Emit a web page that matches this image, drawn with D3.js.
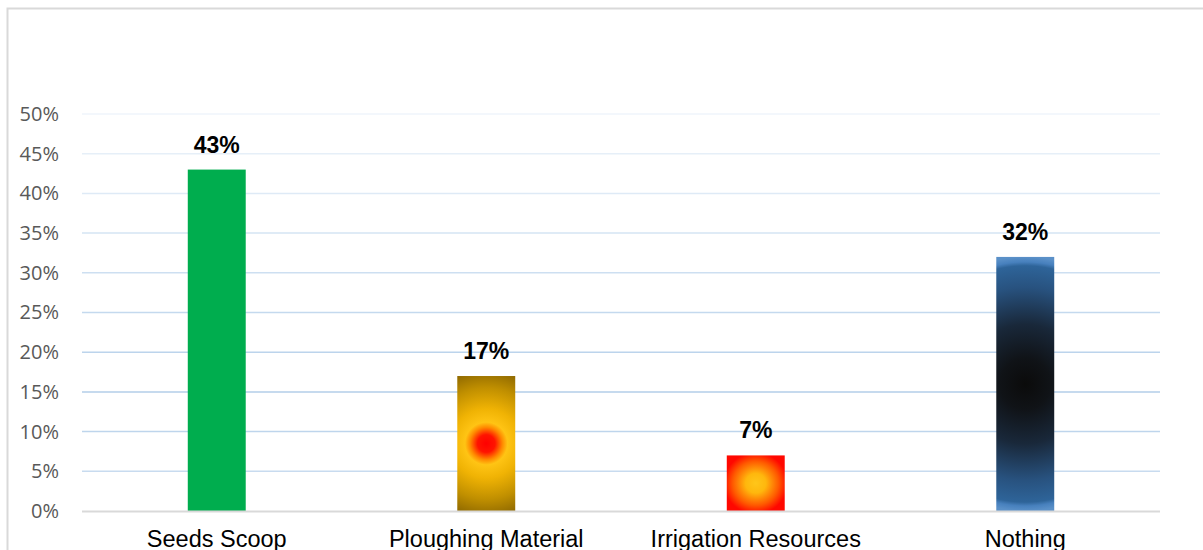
<!DOCTYPE html>
<html>
<head>
<meta charset="utf-8">
<script src="https://cdn.jsdelivr.net/npm/d3@7"></script>
<style>
  html, body { margin: 0; padding: 0; background: #ffffff; }
  svg { display: block; }
</style>
</head>
<body>
<svg id="chart" width="1203" height="550"></svg>
<script>
// Share of respondents by type of support received
const categories = ["Seeds Scoop", "Ploughing Material", "Irrigation Resources", "Nothing"];
const shares = [0.43, 0.17, 0.07, 0.32];
const valueLabels = ["43%", "17%", "7%", "32%"];
const tickValues = [0, 0.05, 0.10, 0.15, 0.20, 0.25, 0.30, 0.35, 0.40, 0.45, 0.50];
const tickLabels = ["0%", "5%", "10%", "15%", "20%", "25%", "30%", "35%", "40%", "45%", "50%"];

const svg = d3.select("#chart");
const W = 1203, H = 550;
const plot = { left: 82, right: 1160, top: 114, bottom: 511 };

// outer chart frame (runs off the right and bottom edges)
svg.append("rect")
  .attr("x", 7.5).attr("y", 8.5)
  .attr("width", W + 20).attr("height", H + 20)
  .attr("fill", "none").attr("stroke", "#d9d9d9").attr("stroke-width", 2);

const x = d3.scaleBand()
  .domain(categories)
  .range([plot.left, plot.right])
  .paddingInner(0.785)
  .paddingOuter(0.3925);

const y = d3.scaleLinear().domain([0, 0.5]).range([plot.bottom, plot.top]);

// gridlines: pale blue, fading toward the top
const gridColor = d3.scaleLinear()
  .domain([0.05, 0.15, 0.5])
  .range(["#c8dbef", "#b3cee9", "#eff5fb"]);

svg.append("g")
  .selectAll("line")
  .data(tickValues.filter(v => v > 0))
  .join("line")
  .attr("x1", plot.left).attr("x2", plot.right)
  .attr("y1", d => y(d)).attr("y2", d => y(d))
  .attr("stroke", d => gridColor(d))
  .attr("stroke-width", 1.5);

// y axis tick labels
const yAxis = d3.axisLeft(y)
  .tickValues(tickValues)
  .tickFormat((d, i) => tickLabels[i])
  .tickSize(0)
  .tickPadding(0);

const yg = svg.append("g")
  .attr("transform", `translate(59,0)`)
  .call(yAxis);
yg.select(".domain").remove();
yg.selectAll("text")
  .attr("fill", "#595959")
  .style("font-family", "'Open Sans', sans-serif")
  .style("font-size", "20px");

const bars = categories.map((c, i) => ({ c, v: shares[i], label: valueLabels[i] }));
const cxOf = d => x(d.c) + x.bandwidth() / 2;
const cyOf = d => (y(d.v) + y(0)) / 2;
const halfH = d => (y(0) - y(d.v)) / 2;

// gradient fills, centred on each bar
const defs = svg.append("defs");

// ploughing: red core, yellow body, darkening gold edges
const pb = bars[1];
const gGold = defs.append("radialGradient").attr("id", "fillGold")
  .attr("gradientUnits", "userSpaceOnUse")
  .attr("cx", cxOf(pb)).attr("cy", cyOf(pb))
  .attr("r", Math.hypot(x.bandwidth() / 2, halfH(pb)));
[[0, "#ff0000"], [0.12, "#ff1400"], [0.22, "#ff8a00"], [0.29, "#ffc414"],
 [0.47, "#f0b304"], [0.76, "#c08f00"], [1, "#8f6900"]]
  .forEach(([o, c]) => gGold.append("stop").attr("offset", o).attr("stop-color", c));

// irrigation: yellow centre, red edges
const gFire = defs.append("radialGradient").attr("id", "fillFire")
  .attr("cx", 0.5).attr("cy", 0.5).attr("r", 0.55);
[[0, "#ffc61a"], [0.32, "#ffb70d"], [0.72, "#ff5a00"], [1, "#ff0800"]]
  .forEach(([o, c]) => gFire.append("stop").attr("offset", o).attr("stop-color", c));

// nothing: black core, steel blue body, lighter rim at top and bottom
const nb = bars[3];
const gNight = defs.append("radialGradient").attr("id", "fillNight")
  .attr("gradientUnits", "userSpaceOnUse")
  .attr("cx", cxOf(nb)).attr("cy", cyOf(nb))
  .attr("r", halfH(nb) * 1.0);
[[0, "#0b0b0b"], [0.2, "#101317"], [0.47, "#19283a"], [0.76, "#28527f"],
 [0.93, "#2e6499"], [0.96, "#4780bd"], [1, "#5a90c8"]]
  .forEach(([o, c]) => gNight.append("stop").attr("offset", o).attr("stop-color", c));

const fills = ["#00ad4e", "url(#fillGold)", "url(#fillFire)", "url(#fillNight)"];

svg.append("g")
  .selectAll("rect")
  .data(bars)
  .join("rect")
  .attr("x", d => x(d.c))
  .attr("y", d => y(d.v))
  .attr("width", x.bandwidth())
  .attr("height", d => y(0) - y(d.v))
  .attr("fill", (d, i) => fills[i]);

// baseline
svg.append("line")
  .attr("x1", plot.left).attr("x2", plot.right)
  .attr("y1", y(0) + 0.5).attr("y2", y(0) + 0.5)
  .attr("stroke", "#d9d9d9").attr("stroke-width", 2);

// value labels
svg.append("g")
  .selectAll("text")
  .data(bars)
  .join("text")
  .attr("x", d => cxOf(d))
  .attr("y", d => y(d.v) - 17)
  .attr("text-anchor", "middle")
  .attr("fill", "#000000")
  .style("font-family", "'Liberation Sans', Arial, sans-serif")
  .style("font-weight", "bold")
  .style("font-size", "23px")
  .text(d => d.label);

// category labels
const xAxis = d3.axisBottom(x).tickSize(0).tickPadding(0);
const xg = svg.append("g")
  .attr("transform", `translate(0,${plot.bottom})`)
  .call(xAxis);
xg.select(".domain").remove();
xg.selectAll("text")
  .attr("dy", null)
  .attr("y", 36)
  .attr("fill", "#000000")
  .style("font-family", "'Liberation Sans', Arial, sans-serif")
  .style("font-size", "23.5px");
</script>
</body>
</html>
